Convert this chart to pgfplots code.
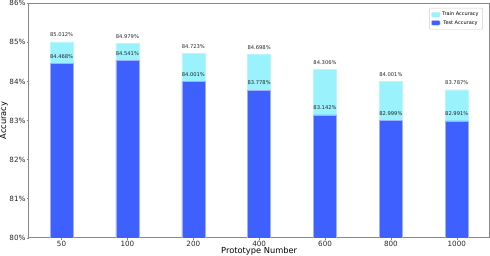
\documentclass[border=0pt]{standalone}
\usepackage{pgfplots}
\pgfplotsset{compat=1.18}
\usepackage{pgfplotstable}
\usepackage{fontspec}
\setmainfont{DejaVu Sans}
\definecolor{trainc}{HTML}{99F2FC}
\definecolor{testc}{HTML}{3D60FF}
\definecolor{spine}{HTML}{888888}
\pgfplotstableread{
x val lab
0 85.012 85.012
1 84.979 84.979
2 84.723 84.723
3 84.698 84.698
4 84.306 84.306
5 84.001 84.001
6 83.787 83.787
}\train
\pgfplotstableread{
x val lab
0 84.468 84.468
1 84.541 84.541
2 84.001 84.001
3 83.778 83.778
4 83.142 83.142
5 82.999 82.999
6 82.991 82.991
}\test
\begin{document}
\begin{tikzpicture}
\begin{axis}[
  scale only axis,
  width=460bp, height=234bp,
  xmin=-0.5, xmax=6.5,
  ymin=80, ymax=86,
  ytick={80,81,...,86},
  yticklabel={\pgfmathprintnumber{\tick}\%},
  xtick={0,...,6},
  xticklabels={50,100,200,400,600,800,1000},
  /pgf/number format/assume math mode=true,
  tick label style={font=\fontsize{7.2}{8}\selectfont, text=black!85},
  yticklabel style={inner sep=0.5pt, xshift=-0.5pt},
  xticklabel style={inner sep=1pt, yshift=-0.5pt},
  xlabel={Prototype Number},
  ylabel={Accuracy},
  label style={font=\fontsize{8.3}{10}\selectfont},
  xlabel style={inner sep=0pt, yshift=1pt},
  ylabel style={inner sep=0pt, yshift=1pt},
  axis line style={spine, line width=0.6pt},
  tick style={spine, line width=0.5pt},
  tick align=outside,
  major tick length=2pt,
  xtick pos=bottom, ytick pos=left,
  ybar, bar width=0.35,
  legend style={at={(0.985,0.98)}, anchor=north east, font=\fontsize{5}{6}\selectfont,
    draw=black!20, rounded corners=1pt, inner sep=2pt, row sep=-1pt},
  legend image code/.code={\fill[#1] (0cm,-0.08cm) rectangle (0.3cm,0.08cm);},
  nodes near coords style={font=\fontsize{5.2}{6}\selectfont, text=black!85, anchor=south, yshift=1.5pt},
]
\addplot[fill=trainc, draw=trainc!70!white, line width=0.4pt, bar shift=0,
  point meta=explicit symbolic, nodes near coords={\pgfplotspointmeta\%}]
  table[x=x, y=val, meta=lab] {\train};
\addlegendentry{Train Accuracy}
\addplot[fill=testc, draw=testc!50!white, line width=0.4pt, bar shift=0,
  point meta=explicit symbolic, nodes near coords={\pgfplotspointmeta\%}]
  table[x=x, y=val, meta=lab] {\test};
\addlegendentry{Test Accuracy}
\end{axis}
\end{tikzpicture}
\end{document}
